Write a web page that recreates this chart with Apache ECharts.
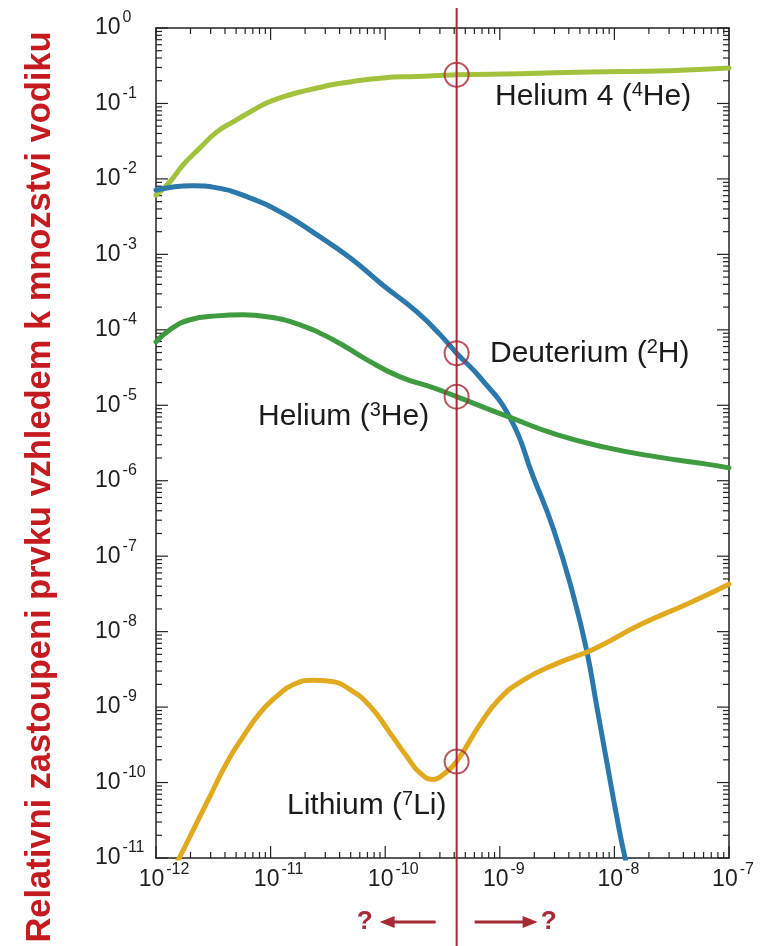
<!DOCTYPE html>
<html>
<head>
<meta charset="utf-8">
<script src="https://cdn.jsdelivr.net/npm/echarts@6/dist/echarts.min.js"></script>
<style>
  html, body { margin: 0; padding: 0; background: #ffffff; }
  #chart { width: 769px; height: 946px; }
</style>
</head>
<body>
<div id="chart"></div>
<script>
// Decade exponents used for the tick labels (10^n)
const xExponents = [-12, -11, -10, -9, -8, -7];
const yExponents = [0, -1, -2, -3, -4, -5, -6, -7, -8, -9, -10, -11];

// Abundance curves: [baryon-to-photon ratio, abundance relative to hydrogen]
const helium4 = [
  [1.0e-12, 6.1e-3], [1.32e-12, 9.1e-3], [1.72e-12, 1.53e-2], [2.42e-12, 2.58e-2],
  [3.40e-12, 4.20e-2], [4.70e-12, 5.69e-2], [6.61e-12, 7.71e-2], [9.31e-12, 1.02e-1],
  [1.28e-11, 1.22e-1], [1.81e-11, 1.42e-1], [2.54e-11, 1.60e-1], [3.51e-11, 1.78e-1],
  [4.93e-11, 1.93e-1], [9.57e-11, 2.18e-1], [1.89e-10, 2.28e-1], [4.2e-10, 2.40e-1],
  [1.5e-9, 2.48e-1], [6.12e-9, 2.61e-1], [3.0e-8, 2.72e-1], [1.0e-7, 2.95e-1]
];
const deuterium = [
  [1.0e-12, 7.1e-3], [2.1e-12, 8.1e-3], [3.4e-12, 7.6e-3], [6.6e-12, 5.6e-3],
  [1.28e-11, 3.5e-3], [2.54e-11, 1.81e-3], [4.93e-11, 9.0e-4], [9.57e-11, 3.9e-4],
  [1.89e-10, 1.73e-4], [3.0e-10, 8.7e-5], [4.2e-10, 4.9e-5], [6.72e-10, 2.34e-5],
  [1.23e-9, 6.8e-6], [1.96e-9, 1.12e-6], [2.93e-9, 2.31e-7], [4.38e-9, 3.03e-8],
  [5.73e-9, 5.6e-9], [7.01e-9, 1.03e-9], [8.57e-9, 1.9e-10], [1.05e-8, 3.5e-11],
  [1.24e-8, 1.0e-11], [1.41e-8, 5.0e-12]
];
const helium3 = [
  [1.0e-12, 6.9e-5], [1.32e-12, 1.0e-4], [1.98e-12, 1.36e-4], [3.40e-12, 1.53e-4],
  [5.74e-12, 1.58e-4], [9.31e-12, 1.49e-4], [1.81e-11, 1.16e-4], [3.51e-11, 7.4e-5],
  [6.94e-11, 4.0e-5], [1.35e-10, 2.38e-5], [2.61e-10, 1.71e-5], [4.2e-10, 1.30e-5],
  [1.23e-9, 6.9e-6], [3.14e-9, 4.08e-6], [8.57e-9, 2.75e-6], [2.34e-8, 2.07e-6],
  [6.38e-8, 1.66e-6], [1.0e-7, 1.48e-6]
];
const lithium7 = [
  [1.3e-12, 5.5e-12], [1.57e-12, 9.5e-12], [2.12e-12, 2.38e-11], [2.96e-12, 6.6e-11],
  [4.14e-12, 1.82e-10], [5.78e-12, 4.1e-10], [8.09e-12, 8.4e-10], [1.13e-11, 1.39e-9],
  [1.58e-11, 1.99e-9], [2.36e-11, 2.27e-9], [3.30e-11, 2.20e-9], [4.93e-11, 1.71e-9],
  [7.37e-11, 1.03e-9], [1.10e-10, 4.55e-10], [1.54e-10, 2.23e-10], [2.01e-10, 1.34e-10],
  [2.63e-10, 1.10e-10], [3.21e-10, 1.28e-10], [4.2e-10, 1.9e-10], [6.72e-10, 5.9e-10],
  [1.0e-9, 1.30e-9], [1.6e-9, 2.27e-9], [3.14e-9, 3.77e-9], [6.64e-9, 5.9e-9],
  [1.67e-8, 1.23e-8], [4.57e-8, 2.42e-8], [1.0e-7, 4.26e-8]
];

const etaMarker = 4.2e-10;
const markerValues = [0.24, 4.9e-5, 1.3e-5, 1.9e-10];

// Curve names and annotation texts (main text, superscript, tail)
const seriesNames = ['Helium 4', 'Deuterium', 'Helium 3', 'Lithium 7'];
const curveLabels = [
  ['Helium 4 (', '4', 'He)'],
  ['Deuterium (', '2', 'H)'],
  ['Helium (', '3', 'He)'],
  ['Lithium (', '7', 'Li)']
];
const yTitle = 'Relativni zastoupeni prvku vzhledem k mnozstvi vodiku';

const X_MIN = Math.pow(10, xExponents[0]);
const X_MAX = Math.pow(10, xExponents[xExponents.length - 1]);
const Y_MIN = Math.pow(10, yExponents[yExponents.length - 1]);
const Y_MAX = Math.pow(10, yExponents[0]);

const FONT = '"Liberation Sans", Arial, Helvetica, sans-serif';
const FRAME = '#222222';
const MARK_RED = '#a52a35';

// Logarithmic tick positions (1..9 within each decade); third field flags a decade tick
function logTicks(e0, e1) {
  const out = [];
  for (let e = e0; e < e1; e++) {
    for (let m = 1; m < 10; m++) out.push([m * Math.pow(10, e), m === 1 ? 1 : 0]);
  }
  out.push([Math.pow(10, e1), 1]);
  return out;
}
const xTickData = logTicks(xExponents[0], xExponents[xExponents.length - 1]).map(t => [t[0], Y_MIN, t[1]]);
const yTickData = logTicks(yExponents[yExponents.length - 1], yExponents[0]).map(t => [X_MIN, t[0], t[1]]);

const tickStyle = { stroke: FRAME, lineWidth: 1.2 };

function supLabel(value, padded) {
  const e = Math.round(Math.log10(value));
  const exp = String(e);
  const base = padded ? (exp.length >= 3 ? 'b3' : (exp.length === 2 ? 'b2' : 'b1')) : 'b';
  return '{' + base + '|10}{s|' + exp + '}';
}
const LABEL_COLOR = '#1e1e1e';
const labelRich = {
  b:  { fontSize: 23, fontFamily: FONT, color: LABEL_COLOR, lineHeight: 38 },
  b1: { fontSize: 23, fontFamily: FONT, color: LABEL_COLOR, lineHeight: 38, padding: [0, 0, 0, 3] },
  b2: { fontSize: 23, fontFamily: FONT, color: LABEL_COLOR, lineHeight: 38, padding: [0, 0, 0, 8] },
  b3: { fontSize: 23, fontFamily: FONT, color: LABEL_COLOR, lineHeight: 38, padding: [0, 0, 0, 16] },
  s:  { fontSize: 16, fontFamily: FONT, color: LABEL_COLOR, lineHeight: 38, verticalAlign: 'top', padding: [1, 0, 0, 2] }
};

const lineColors = ['#a2c23d', '#2b78ad', '#3f9b40', '#e0a91e'];
const curves = [helium4, deuterium, helium3, lithium7];

const chart = echarts.init(document.getElementById('chart'), null, { renderer: 'canvas' });

const option = {
  animation: false,
  backgroundColor: '#ffffff',
  grid: { left: 156, top: 28, right: 40, bottom: 88, containLabel: false },
  xAxis: [
    {
      type: 'log', logBase: 10, min: X_MIN, max: X_MAX, interval: 1, position: 'bottom',
      axisLine: { show: true, lineStyle: { color: FRAME, width: 1.5 } },
      axisTick: { show: false }, splitLine: { show: false }, minorTick: { show: false },
      axisLabel: { margin: 3, formatter: v => supLabel(v, true), rich: labelRich }
    },
    {
      type: 'log', logBase: 10, min: X_MIN, max: X_MAX, interval: 1, position: 'top',
      axisLine: { show: true, onZero: false, lineStyle: { color: FRAME, width: 1.5 } },
      axisTick: { show: false }, splitLine: { show: false }, axisLabel: { show: false }
    }
  ],
  yAxis: [
    {
      type: 'log', logBase: 10, min: Y_MIN, max: Y_MAX, interval: 1, position: 'left',
      axisLine: { show: true, lineStyle: { color: FRAME, width: 1.5 } },
      axisTick: { show: false }, splitLine: { show: false }, minorTick: { show: false },
      axisLabel: { margin: 61, align: 'left', formatter: v => supLabel(v, false), rich: labelRich }
    },
    {
      type: 'log', logBase: 10, min: Y_MIN, max: Y_MAX, interval: 1, position: 'right',
      axisLine: { show: true, onZero: false, lineStyle: { color: FRAME, width: 1.5 } },
      axisTick: { show: false }, splitLine: { show: false }, axisLabel: { show: false }
    }
  ],
  series: [
    // Inward ticks on the bottom and top edges
    {
      type: 'custom', name: 'x ticks', xAxisIndex: 0, yAxisIndex: 0, silent: true, clip: false, z: 2,
      data: xTickData,
      renderItem: function (params, api) {
        const v = api.value(0);
        const len = api.value(2) ? 12 : 6;
        const pb = api.coord([v, Y_MIN]);
        const pt = api.coord([v, Y_MAX]);
        return { type: 'group', children: [
          { type: 'line', shape: { x1: pb[0], y1: pb[1], x2: pb[0], y2: pb[1] - len }, style: tickStyle },
          { type: 'line', shape: { x1: pt[0], y1: pt[1], x2: pt[0], y2: pt[1] + len }, style: tickStyle }
        ] };
      }
    },
    // Inward ticks on the left and right edges
    {
      type: 'custom', name: 'y ticks', xAxisIndex: 0, yAxisIndex: 0, silent: true, clip: false, z: 2,
      data: yTickData,
      renderItem: function (params, api) {
        const v = api.value(1);
        const len = api.value(2) ? 12 : 6;
        const pl = api.coord([X_MIN, v]);
        const pr = api.coord([X_MAX, v]);
        return { type: 'group', children: [
          { type: 'line', shape: { x1: pl[0], y1: pl[1], x2: pl[0] + len, y2: pl[1] }, style: tickStyle },
          { type: 'line', shape: { x1: pr[0], y1: pr[1], x2: pr[0] - len, y2: pr[1] }, style: tickStyle }
        ] };
      }
    }
  ].concat(curves.map((data, i) => ({
    type: 'line', name: seriesNames[i], data: data, xAxisIndex: 0, yAxisIndex: 0,
    showSymbol: false, smooth: 0.5, clip: true, z: 3,
    lineStyle: { color: lineColors[i], width: 5, cap: 'round', join: 'round' }
  }))).concat([
    {
      type: 'scatter', name: 'measured', xAxisIndex: 0, yAxisIndex: 0, z: 6,
      data: markerValues.map(v => [etaMarker, v]),
      symbol: 'circle', symbolSize: 24,
      itemStyle: { color: 'rgba(0,0,0,0)', borderColor: MARK_RED, borderWidth: 2 }
    }
  ])
};

chart.setOption(option);

// Vertical-axis title, squeezed along its length to fit the chart height
const titleFontSize = 35;
const measureCtx = document.createElement('canvas').getContext('2d');
measureCtx.font = 'bold ' + titleFontSize + 'px ' + FONT;
const titleWidth = measureCtx.measureText(yTitle).width || 1;
const titleScale = 911 / titleWidth;

const px = chart.convertToPixel({ xAxisIndex: 0 }, etaMarker);
const arrowY = 922;

function annotation(i, x, y) {
  const t = curveLabels[i];
  return {
    type: 'text', x: x, y: y, z: 50,
    style: {
      text: '{a|' + t[0] + '}{s|' + t[1] + '}{a|' + t[2] + '}',
      align: 'left', verticalAlign: 'middle',
      rich: {
        a: { fontSize: 30, fontFamily: FONT, fill: '#1b1b1b', lineHeight: 36 },
        s: { fontSize: 20, fontFamily: FONT, fill: '#1b1b1b', lineHeight: 36, verticalAlign: 'top', padding: [1, 0, 0, 0] }
      }
    }
  };
}

chart.setOption({
  graphic: [
    {
      type: 'text', x: 40, y: 487, rotation: Math.PI / 2, scaleX: titleScale, z: 50,
      style: {
        text: yTitle, fontSize: titleFontSize, fontWeight: 'bold', fontFamily: FONT,
        fill: '#c41a20', align: 'center', verticalAlign: 'middle'
      }
    },
    {
      type: 'line', z: 40,
      shape: { x1: px, y1: 8, x2: px, y2: 946 },
      style: { stroke: MARK_RED, lineWidth: 2 }
    },
    annotation(0, 495, 97),
    annotation(1, 490, 354),
    annotation(2, 258, 417),
    annotation(3, 287, 806),
    // "? <-" and "-> ?" below the axis
    { type: 'line', z: 40, shape: { x1: px - 21, y1: arrowY, x2: px - 64, y2: arrowY }, style: { stroke: MARK_RED, lineWidth: 3 } },
    { type: 'polygon', z: 40, shape: { points: [[px - 77, arrowY], [px - 62, arrowY - 6], [px - 62, arrowY + 6]] }, style: { fill: MARK_RED } },
    { type: 'line', z: 40, shape: { x1: px + 18, y1: arrowY, x2: px + 68, y2: arrowY }, style: { stroke: MARK_RED, lineWidth: 3 } },
    { type: 'polygon', z: 40, shape: { points: [[px + 81, arrowY], [px + 66, arrowY - 6], [px + 66, arrowY + 6]] }, style: { fill: MARK_RED } },
    {
      type: 'text', x: px - 92, y: arrowY, z: 50,
      style: { text: '?', fontSize: 26, fontWeight: 'bold', fontFamily: FONT, fill: MARK_RED, align: 'center', verticalAlign: 'middle' }
    },
    {
      type: 'text', x: px + 92, y: arrowY, z: 50,
      style: { text: '?', fontSize: 26, fontWeight: 'bold', fontFamily: FONT, fill: MARK_RED, align: 'center', verticalAlign: 'middle' }
    }
  ]
});
</script>
</body>
</html>
